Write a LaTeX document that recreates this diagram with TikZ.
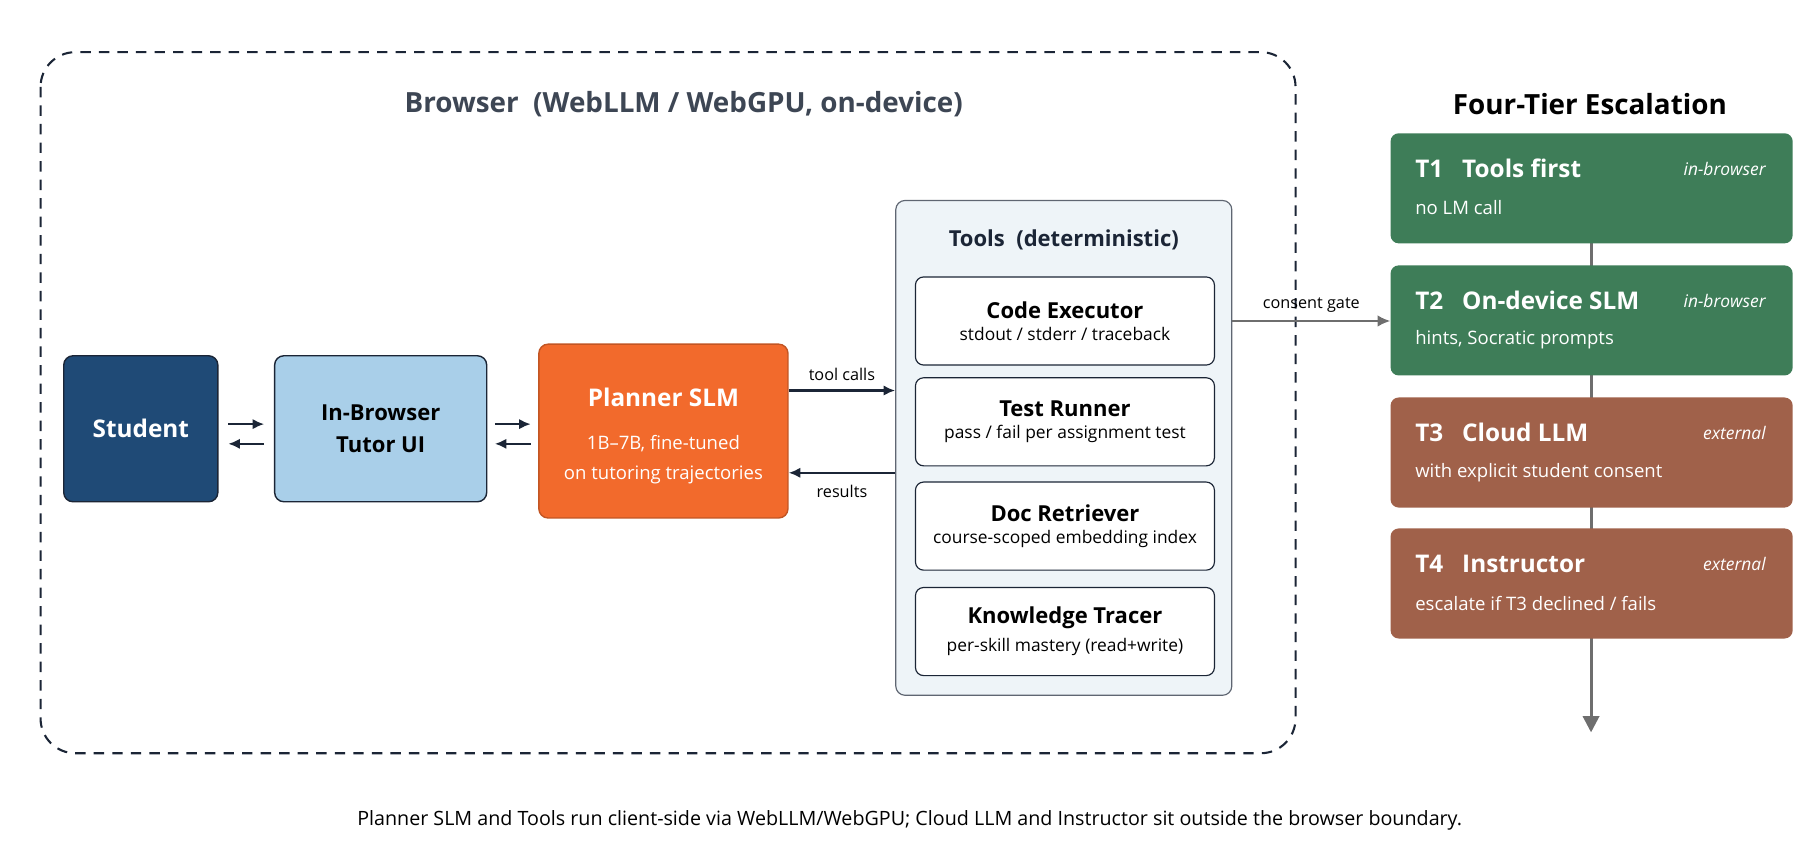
\documentclass[tikz,border=0pt]{standalone}
\usepackage{fontspec}
\setmainfont{Open Sans}
\usetikzlibrary{arrows.meta}
\definecolor{dk}{HTML}{1B2536}
\definecolor{stud}{HTML}{1F4A76}
\definecolor{tut}{HTML}{A9CFE9}
\definecolor{plan}{HTML}{F26A2C}
\definecolor{toolbg}{HTML}{EEF4F8}
\definecolor{grn}{HTML}{3E7D58}
\definecolor{brn}{HTML}{A0614A}
\definecolor{gr}{HTML}{6E6E6E}
\begin{document}
\begin{tikzpicture}[x=1pt,y=-1pt,
  box/.style={draw=dk,line width=1.2pt,rounded corners=8pt,align=center},
  sub/.style={draw=dk,line width=1pt,fill=white,rounded corners=7pt,minimum width=258pt,minimum height=76pt,align=center,inner sep=0pt},
  tier/.style={rounded corners=7pt,minimum width=347pt,minimum height=95pt,draw=none},
  ar/.style={-{Latex[length=10pt,width=9pt]},line width=2.2pt,dk},
  th/.style={text=white,font=\fontsize{21}{25}\selectfont\bfseries,anchor=west},
  tt/.style={text=white,font=\fontsize{16}{19}\selectfont,anchor=west},
  ti/.style={text=white,font=\fontsize{15}{18}\selectfont\itshape,anchor=east}]
\useasboundingbox (0,0) rectangle (1568,747);
\draw[dk,line width=1.8pt,dash pattern=on 9pt off 7pt,rounded corners=30pt] (35,45) rectangle (1118,650);
\node[font=\fontsize{24}{28}\selectfont\bfseries,text=dk!85] (title) at (590,90) {Browser\ \ (WebLLM / WebGPU,\ on-device)};
\node[box,fill=stud,text=white,minimum width=133pt,minimum height=126pt,font=\fontsize{21}{25}\selectfont\bfseries] (st) at (121.5,370) {Student};
\node[box,fill=tut,text=black,minimum width=183pt,minimum height=126pt,font=\fontsize{19}{28}\selectfont\bfseries] (tu) at (328.5,370) {In-Browser\\Tutor UI};
\node[box,draw=plan!80!black,fill=plan,text=white,minimum width=215pt,minimum height=150pt] (pl) at (572.5,372) {};
\node[text=white,font=\fontsize{21}{25}\selectfont\bfseries] (plt) at (572.5,343) {Planner SLM};
\node[text=white,font=\fontsize{16}{26}\selectfont,align=center] (pls) at (572.5,397) {1B--7B,\ fine-tuned\\on tutoring trajectories};
\coordinate (a1) at (197,366); \coordinate (a2) at (228,366);
\coordinate (a3) at (197,383); \coordinate (a4) at (228,383);
\draw[ar] (a1) -- (a2); \draw[ar] (a4) -- (a3);
\coordinate (b1) at (427,366); \coordinate (b2) at (458,366);
\coordinate (b3) at (427,383); \coordinate (b4) at (458,383);
\draw[ar] (b1) -- (b2); \draw[ar] (b4) -- (b3);
\node[box,draw=dk!70,line width=1pt,fill=toolbg,minimum width=290pt,minimum height=427pt] (tools) at (918,386.5) {};
\node[font=\fontsize{19}{23}\selectfont\bfseries,text=dk] (tt) at (918,207) {Tools\ \ (deterministic)};
\node[sub] (s1) at (919,277) {\fontsize{19}{23}\selectfont\bfseries Code Executor\\[7pt]\fontsize{15}{18}\selectfont stdout / stderr / traceback};
\node[sub] (s2) at (919,364) {\fontsize{19}{23}\selectfont\bfseries Test Runner\\[7pt]\fontsize{15}{18}\selectfont pass / fail per assignment test};
\node[sub] (s3) at (919,454) {\fontsize{19}{23}\selectfont\bfseries Doc Retriever\\[7pt]\fontsize{15}{18}\selectfont course-scoped embedding index};
\node[sub] (s4) at (919,545) {\fontsize{19}{23}\selectfont\bfseries Knowledge Tracer\\[7pt]\fontsize{15}{18}\selectfont per-skill mastery (read+write)};
\draw[ar] (pl.east|-0,337) -- node[above=4pt,font=\fontsize{14}{17}\selectfont,text=black]{tool calls} (tools.west|-0,337);
\draw[ar] (tools.west|-0,408) -- node[below=6pt,font=\fontsize{14}{17}\selectfont,text=black]{results} (pl.east|-0,408);
\node[font=\fontsize{24}{28}\selectfont\bfseries,text=black] (ft) at (1372,90) {Four-Tier Escalation};
\coordinate (down) at (1373,632);
\draw[gr,line width=2.5pt,-{Triangle[length=14pt,width=14pt]}] (1373,200) -- (down);
\node[tier,fill=grn] (t1) at (1373.5,162.5) {};
\node[tier,fill=grn] (t2) at (1373.5,276.5) {};
\node[tier,fill=brn] (t3) at (1373.5,390.5) {};
\node[tier,fill=brn] (t4) at (1373.5,503.5) {};
\foreach \t/\a/\b/\c/\d in {t1/T1/Tools first/in-browser/no LM call, t2/T2/On-device SLM/in-browser/{hints, Socratic prompts}, t3/T3/Cloud LLM/external/with explicit student consent, t4/T4/Instructor/external/{escalate if T3 declined {/} fails}}{
  \node[th] at ([xshift=18pt,yshift=17pt]\t.west) {\a\ \ \ \b};
  \node[ti] at ([xshift=-20pt,yshift=17pt]\t.east) {\c};
  \node[tt] at ([xshift=18pt,yshift=-17pt]\t.west) {\d};
}
\draw[gr,line width=1.8pt,-{Latex[length=11pt,width=10pt]}] (tools.east|-0,277) -- node[above=3pt,font=\fontsize{14}{17}\selectfont,text=black]{consent gate} (t2.west|-0,277);
\node[font=\fontsize{17}{20}\selectfont,text=black] (cap) at (785,708) {Planner SLM and Tools run client-side via WebLLM/WebGPU; Cloud LLM and Instructor sit outside the browser boundary.};
\end{tikzpicture}
\end{document}
